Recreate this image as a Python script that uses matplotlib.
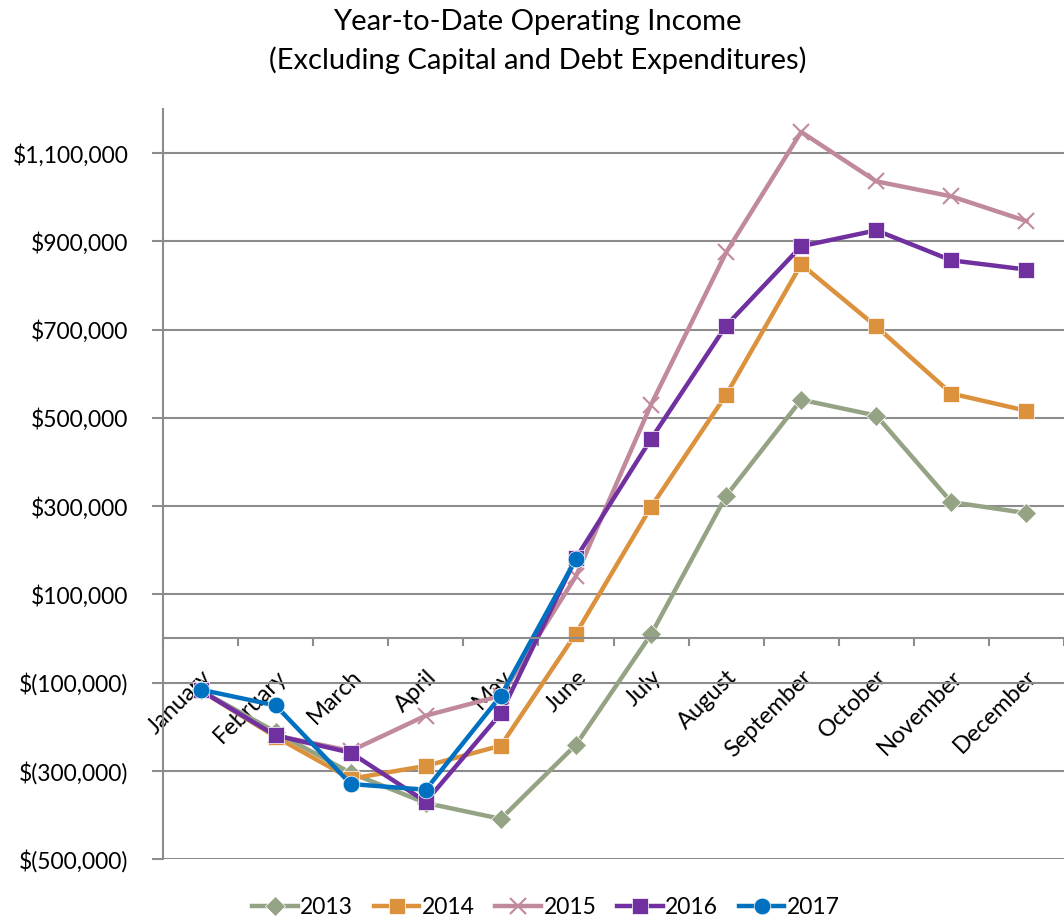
import matplotlib.pyplot as plt
import matplotlib.ticker as mticker
import numpy as np

plt.rcParams['font.family'] = ['Lato', 'DejaVu Sans']

months = ["January", "February", "March", "April", "May", "June", "July",
          "August", "September", "October", "November", "December"]

y2013 = [-118000, -212000, -305000, -373000, -409000, -241000, 9000,
         323000, 541000, 505000, 309000, 284000]
y2014 = [-118000, -223000, -318000, -289000, -243000, 11000, 298000,
         552000, 848000, 707000, 555000, 516000]
y2015 = [-118000, -220000, -255000, -175000, -130000, 141000, 530000,
         875000, 1148000, 1036000, 1002000, 946000]
y2016 = [-118000, -220000, -259000, -370000, -170000, 182000, 452000,
         709000, 889000, 925000, 857000, 836000]
y2017 = [-116000, -152000, -330000, -343000, -130000, 180000]

series = [
    ("2013", y2013, "#94a383", "D", 10),
    ("2014", y2014, "#dc913d", "s", 12),
    ("2015", y2015, "#c08a9c", "x", 11),
    ("2016", y2016, "#7030a0", "s", 12),
    ("2017", y2017, "#0070c0", "o", 12),
]

fig = plt.figure(figsize=(10.64, 9.22), dpi=100)
ax = fig.add_axes([163 / 1064, 63 / 922, 1 - 163 / 1064, 750 / 922])

x = np.arange(len(months))
for name, vals, col, mk, ms in series:
    ax.plot(x[:len(vals)], vals, color=col, lw=3.2, marker=mk, ms=ms,
            mew=1.5 if mk == "x" else 0.5, mec=col if mk == "x" else "white",
            mfc=col, label=name, clip_on=False)

ax.set_ylim(-500000, 1200000)
ax.set_xlim(-0.5, 11 + 28 / 76)
ax.set_yticks(np.arange(-500000, 1100001, 200000))


def money(v, pos):
    if v < 0:
        return "$({:,.0f})".format(-v)
    return "${:,.0f}".format(v)


ax.yaxis.set_major_formatter(mticker.FuncFormatter(money))
ax.yaxis.grid(True, color="#8c8c8c", lw=1.5)
ax.set_axisbelow(True)

for s in ["top", "right"]:
    ax.spines[s].set_visible(False)
ax.spines["left"].set_color("#8c8c8c")
ax.spines["left"].set_linewidth(1.5)
ax.spines["bottom"].set_position(("data", 0))
ax.spines["bottom"].set_color("#8c8c8c")
ax.spines["bottom"].set_linewidth(1.5)

ax.set_xticks(x)
ax.set_xticklabels(months, rotation=45, ha="right", va="top",
                   rotation_mode="anchor", fontsize=17)
ax.tick_params(axis="x", length=0, pad=20)
ax.set_xticks(np.arange(-0.5, 11.6, 1), minor=True)
ax.tick_params(axis="x", which="minor", length=6, width=1.5, color="#8c8c8c",
               direction="out")
ax.tick_params(axis="y", length=8, width=1.5, color="#8c8c8c", labelsize=16.5,
               pad=17)

fig.text(0.505, 0.99, "Year-to-Date Operating Income\n(Excluding Capital and Debt Expenditures)",
         ha="center", va="top", fontsize=21, linespacing=1.5)

fig.legend(loc="center", bbox_to_anchor=(0.513, 0.016), ncol=5, frameon=False,
           fontsize=16.5, handlelength=2.0, columnspacing=0.9, handletextpad=0.1)

fig.savefig("out.png", dpi=100)
